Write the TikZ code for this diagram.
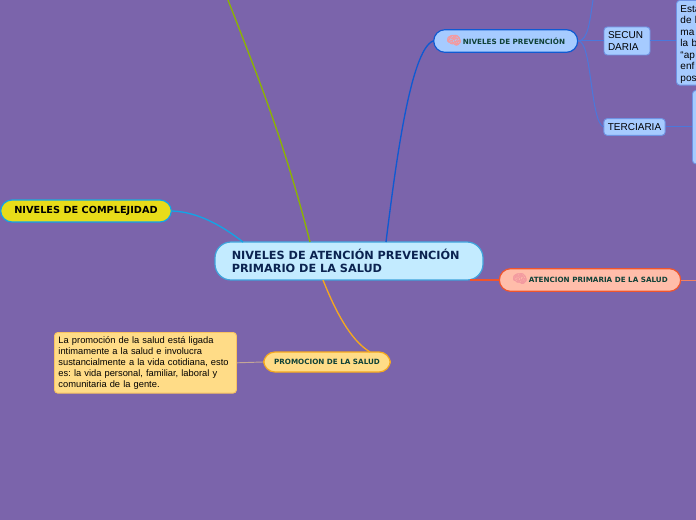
\documentclass[tikz,border=0pt]{standalone}
\usepackage{fontspec}
\setmainfont{DejaVu Sans}
\newfontfamily\armfont{Liberation Sans}
\newfontfamily\brainfont[AutoFakeBold=3]{Noto Emoji}
\definecolor{bgpurple}{HTML}{7B64AB}
\definecolor{rootfill}{HTML}{C3EBFF}
\definecolor{rootline}{HTML}{3FA3DC}
\definecolor{rootink}{HTML}{0B2350}
\definecolor{bluefill}{HTML}{A6CBFF}
\definecolor{blueline}{HTML}{0F5AD2}
\definecolor{blueedge}{HTML}{4A78DC}
\definecolor{redfill}{HTML}{FFBDAA}
\definecolor{redline}{HTML}{F0552D}
\definecolor{amberfill}{HTML}{FFDC87}
\definecolor{amberline}{HTML}{F5A81E}
\definecolor{yellowfill}{HTML}{E8DC19}
\definecolor{skyline}{HTML}{12A5E6}
\definecolor{olive}{HTML}{8CB400}
\definecolor{headink}{HTML}{0F4137}
\definecolor{brainpink}{HTML}{F39AA0}
\tikzset{
  x=0.75pt,y=-0.75pt,
  topic/.style={draw,line width=0.9pt,rounded corners=8.5pt,align=left,inner sep=0pt},
  rootbox/.style={topic,fill=rootfill,draw=rootline,minimum width=201pt,minimum height=28.5pt,rounded corners=12pt},
  head/.style={topic,text=headink,minimum height=17pt,font=\fontsize{5.4}{6.5}\selectfont\bfseries},
  leaf/.style={draw=blueedge!80!white,fill=bluefill,line width=0.7pt,rounded corners=2.5pt,align=left,inner ysep=0pt,inner xsep=3pt,text=black,font=\armfont\frenchspacing\fontsize{7.5}{9}\selectfont},
  branch/.style={line width=1pt},
  twig/.style={line width=0.75pt,draw=blueedge},
}
\newcommand{\brainicon}{\smash{\brainfont\fontsize{9}{9}\selectfont\textcolor{brainpink}{^^^^^1f9e0}}}
\begin{document}
\begin{tikzpicture}
\useasboundingbox (0,0) rectangle (696,520);
\clip (0,0) rectangle (696,520);
\fill[bgpurple] (0,0) rectangle (696,520);

\coordinate (offtop) at (228,0);
\coordinate (offup) at (593,0);
\coordinate (offright) at (696,280);
\coordinate (rootgreen) at (310,242);
\coordinate (rootblue) at (386,242);
\coordinate (rootsky) at (243,242);
\coordinate (rootamber) at (323,280);
\coordinate (rootred) at (470,280);
\coordinate (promtop) at (370,352);

\node[rootbox] (root) at (349,261) {};
\node[text=rootink,font=\fontsize{8.45}{10}\selectfont\bfseries,align=left,anchor=west,inner sep=0pt] (rootlabel) at (231.5,261) {NIVELES DE ATENCIÓN PREVENCIÓN\\PRIMARIO DE LA SALUD};

\node[head,fill=bluefill,draw=blueline,minimum width=108pt] (prev) at (505.7,41) {\brainicon\hspace{1pt}NIVELES DE PREVENCIÓN};
\node[head,fill=redfill,draw=redline,minimum width=136pt] (aten) at (590,280) {\brainicon\hspace{1pt}ATENCION PRIMARIA DE LA SALUD};
\node[head,fill=amberfill,draw=amberline,minimum width=95pt,minimum height=15pt] (prom) at (327,362) {PROMOCION DE LA SALUD};
\node[topic,fill=yellowfill,draw=skyline,text=black,minimum width=128pt,minimum height=16.5pt,font=\fontsize{7.3}{8.5}\selectfont\bfseries] (compl) at (86,211) {NIVELES DE COMPLEJIDAD};

\node[leaf,draw=amberline!70!white,fill=amberfill,text width=130.5pt,minimum height=45.5pt,anchor=north west,font=\armfont\frenchspacing\fontsize{7}{8.25}\selectfont] (promtext) at (54,332) {La promoción de la salud está ligada\\intimamente a la salud e involucra\\sustancialmente a la vida cotidiana, esto\\es: la vida personal, familiar, laboral y\\comunitaria de la gente.};

\node[leaf,text width=28.5pt,minimum height=21pt] (secun) at (627,41) {SECUN\\DARIA};
\node[leaf,minimum width=45.5pt,minimum height=12.5pt] (terc) at (634.5,127) {TERCIARIA};
\node[leaf,text width=64pt,minimum height=63.5pt,anchor=north west,font=\armfont\fontsize{7.5}{8.6}\selectfont] (sectext) at (676,0) {\rule{0pt}{7.5pt}Esta\\de l\\ma\\la b\\“ap\\enf\\pos};
\node[leaf,minimum width=70pt,minimum height=55pt,anchor=north west] (tertext) at (692,90) {};

\draw[branch,olive] (rootgreen) .. controls (284,140) and (256,72) .. (offtop);
\draw[branch,blueline] (rootblue) .. controls (395,170) and (410,50) .. (prev.west);
\draw[branch,skyline] (compl.east) .. controls (200,212) and (225,228) .. (rootsky);
\draw[branch,amberline] (rootamber) .. controls (335,310) and (350,340) .. (promtop);
\draw[branch,redline] (rootred) -- (aten.west);
\draw[line width=0.6pt,redline!75!white] (aten.east) -- (offright);
\draw[line width=0.7pt,amberfill!55!bgpurple] (prom.west) -- (promtext.east);

\draw[twig] (prev.east) .. controls (588,41) and (590,20) .. (offup);
\draw[twig] (prev.east) -- (secun.west);
\draw[twig] (prev.east) .. controls (592,41) and (590,120) .. (terc.west);
\draw[twig] (secun.east) -- (sectext.west |- secun.east);
\draw[twig] (terc.east) -- (tertext.west |- terc.east);
\end{tikzpicture}
\end{document}
